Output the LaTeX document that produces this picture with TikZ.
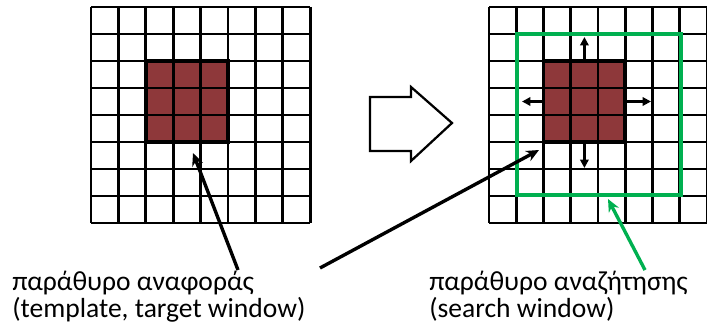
\documentclass[tikz,border=0pt]{standalone}
\usepackage{fontspec}
\setmainfont{Carlito}
\usetikzlibrary{arrows.meta,positioning}
\definecolor{tplred}{RGB}{142,56,58}
\definecolor{wingreen}{RGB}{0,176,80}

\begin{document}
\begin{tikzpicture}[
  x=0.025cm,y=-0.025cm,
  gline/.style={line width=2pt},
  tplbox/.style={fill=tplred},
  winbox/.style={draw=wingreen,line width=3pt},
  moveptr/.style={-{Triangle[length=6pt,width=6pt]},line width=1.9pt},
  ptr/.style={-{Stealth[length=9pt,width=8pt]},line width=2.4pt},
  lbl/.style={anchor=base west,inner sep=0pt,align=left,font=\fontsize{19.6}{17}\selectfont}
]
\useasboundingbox (0,0) rectangle (707,328);

% template window (left)
\fill[tplbox] (145.8,61) rectangle (228,142);
\foreach \i in {0,...,8} {
  \draw[gline] (91+\i*27.4,7) -- (91+\i*27.4,223);
  \draw[gline] (91,7+\i*27) -- (310.2,7+\i*27);
}
\draw[line width=2.6pt] (145.8,61) rectangle (228,142);

% search window (right)
\fill[tplbox] (543.5,61) rectangle (625.25,142);
\foreach \i in {0,...,8} {
  \draw[gline] (489+\i*27.25,7) -- (489+\i*27.25,223);
  \draw[gline] (489,7+\i*27) -- (707,7+\i*27);
}
\draw[line width=2.6pt] (543.5,61) rectangle (625.25,142);
\draw[winbox] (517,34) rectangle (681,195);

% moves of the template
\draw[moveptr] (584.4,61) -- (584.4,37);
\draw[moveptr] (584.4,142) -- (584.4,168);
\draw[moveptr] (543.5,101.5) -- (522,101.5);
\draw[moveptr] (625.25,101.5) -- (651,101.5);

% big hollow arrow
\draw[line width=1.6pt,line join=miter] (370,97) -- (411,97) -- (411,87) -- (452,123)
  -- (411,161) -- (411,151) -- (370,151) -- cycle;

% labels
\node[lbl] (ref) at (12,317) {παράθυρο αναφοράς\\(template, target window)};
\node[lbl] (win) at (429,317) {παράθυρο αναζήτησης\\(search window)};

\coordinate (refTail) at (238,270);
\coordinate (tplPt) at (193,153);
\coordinate (midTail) at (320,268);
\coordinate (winPt) at (539,150);
\coordinate (winTail) at (645,270);
\coordinate (edgePt) at (608,199);

\draw[ptr] (refTail) -- (tplPt);
\draw[ptr] (midTail) -- (winPt);
\draw[ptr,draw=wingreen,fill=wingreen] (winTail) -- (edgePt);
\end{tikzpicture}
\end{document}
